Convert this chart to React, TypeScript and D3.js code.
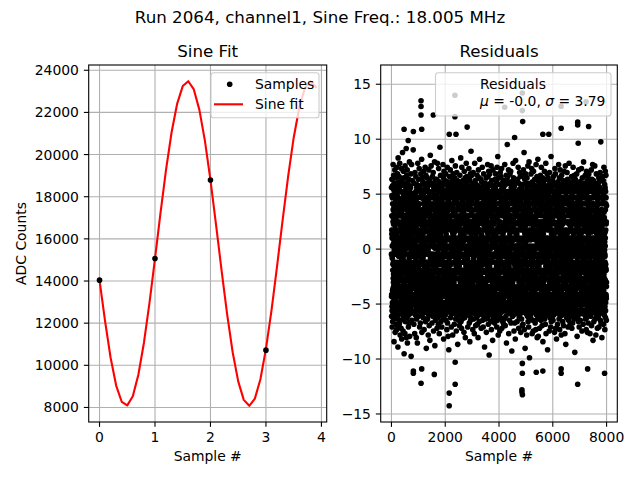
import React from "react";
import * as d3 from "d3";

// ---------- Sine Fit panel ----------
const sampleIdx = [0, 1, 2, 3];
const sampleAdc = [14040, 15070, 18790, 10720];

const fitX = [
    0, 0.1, 0.2, 0.3, 0.4, 0.5, 0.6, 0.7, 0.8, 0.9,
    1, 1.1, 1.2, 1.3, 1.4, 1.5, 1.6, 1.7, 1.8, 1.9,
    2, 2.1, 2.2, 2.3, 2.4, 2.5, 2.6, 2.7, 2.8, 2.9,
    3, 3.1, 3.2, 3.3, 3.4, 3.5, 3.6, 3.7, 3.8, 3.9,
];
const fitAdc = [
    14040, 12100, 10360, 9040, 8270, 8100, 8530, 9550, 11060, 12950,
    15060, 17240, 19300, 21070, 22420, 23250, 23480, 23090, 22120, 20650,
    18790, 16680, 14510, 12430, 10620, 9240, 8360, 8080, 8420, 9340,
    10780, 12610, 14700, 16880, 18960, 20800, 22220, 23150, 23480, 23200,
];
const leftXTicks = [0, 1, 2, 3, 4];
const leftYTicks = [8000, 10000, 12000, 14000, 16000, 18000, 20000, 22000, 24000];

// ---------- Residuals panel ----------
// residuals, one code per sample:
//   a core character (CORE_KEY, lowest level first) for |r| < ~5.7,
//   "+x" / "-x" for the ragged band above / below, x = distance step (TAIL_KEY)
const CORE_KEY = "cvmnayUQbxLPdwMlezVYguN2jt9EkrGKhsO0Wo3DRA45iqHfpIXC8ZB1TJ6SF7";
const TAIL_KEY = "0123456789ABCDEFGHIJKLMNOPQRSTUVWXYZ";
const CORE_RANGE: [number, number] = [-5.6, 5.6];
const TAIL_RANGE: [number, number] = [5.75, 10];
const NUM_SAMPLES = 8000;
const residualRows = [
    "k7Q-3bR3fJ+5mWc-BEh9Ta+0LoZ-7gD2nPi+GXeH-1sMj5Vd+8Fl0Ua-MCp+2YkG8iN-4bSf+CKm4Oe-FhRc+6Wj1Tg-0dL",
    "Hd6NkU-9Zi+1Fc3SmL-DbWg+EPe8JoX-5aDh+9Rj0KfT-QnMc+LQ2Gl-2VbE+3iYd5Ok-AIa+7Cr7Sh-8NfW+HmLe1Zj-HP",
    "eWjL2c-6Ph+0Zk4DnS-CfAbX+Dm9IgU-KdRp+4Ni1KaV-1eGl+POl3cT+2jYh-EMb6Q+BfEt-4Hk0Wn+6CdJ-VaLg8Si-0Ze",
    "Mb5Rk-GGf+FWo1Cj-7Ud+1Zm7Lh-2Sa4Q+SeX-JiNg2Pl+8D-5cKj8V+CbTf-NOn3He+3Yk-3Ia0Rd+YBm-BFg6Wc+5Su-8Lj",
    "Zc9JgS1+IRnF-IkXb4MhW+0eDiP-1jLa7Uq8T+9mGdO-XlYf2KcV+GhEn0Rj-6IbQ3gH+4aZk6CsN-0eXdM5lW+RfPbT",
    "gN8dXlQ-9Bh4TfM+2kCi2ZbR-GwWeJ+AnPa6Gj-2UcOh9DmS+7fKl1AYd-JIgVb-5EkL7cXn+1Ri3HaT-NfQj5Ze+HMm",
    "TiE0cWk+5Ra8NgX-3dLjV3mHb+DPfZe7Qn-BScKh5GlU+0jDa-8YkM2iFbO+9dI9gWn-1JcR6xEh+KTmL-FaPb4XfV+6k",
    "aVg3LcS+3nEj9XkP-4bHf6MmZ+BdRi1WeK-DqTa5GlN+1cUh-0Dj8OfY+EbIk2QgC-7n7FeL+8dWh4Xp-RSj0Ma+2RbV",
    "Fm2KdY+6hBb7Qj-5TfN5cWl+0UeG-HiRa1Xk-2LnD+CgPe8Sj-AMhZ3cVb+46Id-LOfH0kWa+NCmE9gT-1iJl4XnR+FqP",
    "dPk6Uh+1CnW2fL-8bZi8RgE+7mXj0Sa-3NeV4cT+Al2QdH-EkJb7Of+2YiM-0gW5mDa+IKo3Ph-PRc9Fn+5Le-6X1UjIb",
    "Rh4JaX+0eNk0Pg-1ZcE3Lm+5UiD-CdWf8Tb+HQlH-4nKo6Gj+1SaV-9cMd1Yh+DFkI5eOg+3Bb-GXm9Rj-2LpU2fC+TiZd",
    "LeS7gAc+8Uj3ZnK-7bQh0YfD+2kWi5Ma-BRd1TmH+0lXg9Pe-3JcF4nOj+GVb-5I8Gh+6SkE-KaZf2Nq+BLcW6dT-0iRm",
    "cYb2OiW+4fQd8LmG-2kT6Sa+9HnE-6jRg3XeV+1cPh0MzK-DbZd5IlN+EaUf-8Cj4JkF+3hWm-I7SdB+0gLn1QcT-SeXi",
    "NgT9dFk+7HaX0mPc-0WiL4bRj+CZeS-4fUh7QnG+2kMa2VdE-BiJc5OlY+JgKb-1rTe8CmW+5hDf-HQj3AnX+9cSi6LkZ",
    "Il3ZfQ+2aMc7KhT-9jDe1WnR+6bXg-1VpL5dSm+FEkU-5iPa9GcO+0fNh-EYjB4kHd+AZb-3We2TnJ+4gQc0XmF-OaLiR",
    "Uk8CeJ+0mPi2Xb-69RgZ+3aWh4NdL-AfSj0KcY+8nTe6GlO-2qMa3DiH+LbVf-7Qk7EcX+1dWm-CR5Lg+EZhP1iIb-5SjU",
    "bW6cSnK+4hFg1YdO-1iMa8RlZ+1jEe-F3TpUb+BXkQ9fHm-4LcV5gD+6jAn-JWi0Pa+2JeS-0dNk2Gh+HZbM7fRc+7YlT",
    "QiH5kEb+3LgW9mTc-BZa8Nf+0Uj1RhD-2dSl4XeK+DnPb0Mc-8Y6iGa+5VkO-MfJg2Zh-3CeW+9mRu-6Tj7BdL+QiQn3Xc",
    "hDm1XeI+8cPk6SfW-0bZ7Gj+2UaL-DnRi4MgQ+AdYe9KhT-5cOl2VbE+1aNj-GFm6XkH+HdSg-1Zc0Wr+4RfJ5iLb-APeA",
    "Xn3FaO+1jTg8KcW-4hZd1UmS+8bRe4-9PkL+0iNf7DlQ-JcVg0Gh+CYbM-2jIe5CaE+6kHs-79WdT+KmJc2Rn-0UiZ6fPb",
    "jK7eRb+5VmD0hNc-CXfP3gSk+3WaU-1iLo9HdZ+Ee2TjQ-6bGn5CfM+0lYa-BIcE8hOg+9Jk-31SdB+2mXn4FbR-QiUp6T",
    "PcU4iGk+2QdM9nSa-5YhW2fXj+6ZbL-FeE5TgO+1cRm0HkD-0iNb7VfJ+GaKl-43CtI+7eXh-9SgP8dW+BmZn1AcU-WjQb",
    "Gf2NhY+9aDk6JcW-1e0QmT+2gXb-7RiL8jUd+FSnZ-DfK4hPc+4EmV-2bIa9OlM+0gBs-LHdX3eR+CkWj5TcF-5nQi7ZaY",
    "mS5gJd+0EnZ1hWb-8QkT8cLa+5XfU-37RiP+9jOe3VdM-1gYl0KcH+3bNa-BGhD6kIf+EqSe-6WmX2cZj+MAbR9nUg-HTd",
    "Va0XhP+6lEg5RcM-2jNd9KfW+1kZb-ESeI2iUn+AQc9TgD-4hJa6OmY+7bL-0dFk1CeG+DpWj-CXhR4aSg+2ZnM8fB-7cT",
    "ZeP3jDc+4WgI7hUb-9LmR0aSk+0XfN-5nTd4QgE+GiKc8YjM-AbHl1OaV+1fGh-3We6RdB+8kZm-NPcJ5nXi+5SaT9gL+V",
    "eLk8TfW+7dPb2IjZ-0c5ScR+CgXm-GHnA0iNa+2MeU6hKl-6QdY3fVb+9GjO-1cEk9WgD+BmSq-8RaZ7iJd+3LhX1bTf-T",
    "Oc6YgK+1aSe1XjM-3dFk9WlP+HbZh-24RiV+6nUc7LgT-EdHe0JfQ+0mBa-8Dj2ICkN+4bWe-K8XfS+JhZa5GmR-1pTc3U",
    "Yh9DbT+3mWa3IjR-7cZk6QfL+5eSg-0NdU1nVb+EXiE5hKc-CP6GjO+2aMl-4FdH2eWc+ABtS-2kZf8RaQ+7mTi4XgJ-Fb",
    "Kb1QfU+0cXd7HiN-5gSa4ZjL+8mRe-A8TkP+1hWb0VjM-9cId5GlE+CnOa-0YfC2gJe+PXhS-DkRq9Dd+5ZmU3bTi-RWaL",
    "fR4mSc+9OkW9dZh-1La1XgQ+2eTj-HN7PbU+6iIc3VnH-3dKf6YgM+FeEj-70BlD+0aSr-BZcG8kWh+IXbR2nTd-YJiPm5",
    "Sj2WaE+2gPd6McR-4kXn0IfT+9bZh-1UeL9oVj+DGiQ3cYd-GKmN7aHg+3D9Fe-6WbS+1lZj-E4RcX+BkPa1UiM-0h5TdJ",
    "iGd8UkQ+5bXf3LmZ-8eSj0RaW+0cHn-D5TgP+GhVk2MdY-2oIa7EcK+7lNf-J2JbO+4gDh-5XmS+KeRc9ZiW-IpBa4UkT",
    "Uh6NcS+1jKa1WmZ-CdXg8ReF+4kPl-03QbT+8iIe0YnM-6fBc5LhG+EjVa-3EdO+2s1DkW-AgZb7Rc+6XnU4aSi-MPm9Je",
    "cM3kZa+3QfW8hTd-1XbJ0lSe+BRgP-5nUi6Vc4+0LjYa-9EmH9kGd+HNbI-GfOg2CeW+5hZk-2BrS7aXj+9PcR5dLm-STqU",
    "Wd9JgL+6bYh2SmQ-0cXa6TfR+1kZe-E0UnP+AiMj4VdI-4cGh8NkE+3aOb-BFlK1gBd+MWsX-7cRh3Sj+0ZmT7aUe-3QiP",
    "nT1bHf+4XcR5jWe-6ZaQ9kSd+7MlU-2gPi3VhY+1c9LeK-FaDj6GmN+DbIf-00OkW+9hEc-CBgX8tSd+2RaZ2nPj-KUeT4",
    "Dk7PeV+0gSa0XcM-9jRh4ZbW+3nTf-1QdU8lLi+GYe6KaG-5mHc1NjI+6bOd-DEkF5hWg+CXpS-3aRc3ZeB+1mTj9UdQ-Hn",
    "Ra4LiX+8dWk8TcZ-2nQe1SjU+0gPb-7Mh5VfY+4mKc0IdH-AaGl7NjO+BeEb-1DkF3gWc+2XhS-GuRd9ZaT+FiQm2BnP-Oe",
    "hX6eMc+2WgT0kRa-4Zj3QbS+AdPn-07UiL+5fVm9YcK-BhIe2GaN+0lDb-6OjF5kEg+HWdX-1cSh8Rz+3ZbT1aQm-9PiB4f",
    "Tf9RiZ+1cXb4WeS-3gQk1MdU+7aPn-CLjV6hYl+0Kc2IeN-8bGd8HmO+EaEj-2FkD3cWi+4XgS-5cRb0Zp+8TaQ5dMh-UU",
    "bQ2gYd+5LhW7kSa-0XeT0cRm+2ZjU-4f8PnV+9iMb4KcI-IlHe9GdN+1aOk-3FjE1hDg+WW4Xc-7SbR+CaZo6QiT-BfUd3M",
    "Mj5VcQ+3hZb1RfX-6aWe8SkU+0d3TgP-1mLn0YiK+DbIc6HeG-EjNd2OaF+6lEk-0Dh9WcX+2bSg-9RrZ7fTa+IQiU4jMc",
    "Zd0SkW+0bXg5QaR-2fTc9UnP+8eMj-52LhY+1iVc7KdI-Db6HgN+BaGe-4OkF4jEm+4DcW-FhXa1SbR+7iZp8QgT-8eUf3",
    "kU3aPe+9XcW7jSb-1RgZ1dQh+3Tf9M-GiLn5YkV+0bKe0IaH-3cNg4GdO+CmFj-AEhD2lWc+5XsS-0aRb8ZeT+Gq5QiUg-L",
    "Xb7TgR+4cWd2SaZ-7hQi6UkP+1jMe-02LfY+FnVc9KgI-5dHa4NbG+2eOl-HFkE0jDm+9WcX-2hSp3Ra+0ZbT8iQg-CUdM",
    "gW1cRk+1TbS6dZa-4QeU4fPh+6MiL-B9YjV+3nKc3IgH-1bNd7GaO+AeFl-6EmD0jWk+XXcS-8bRt5ZgT+5aQh2UiM-JdP",
    "Pe4XdW+7aSg9RbZ-0cQf1TkU+4hMj-9LiY6nVd+E0KgI-2cHe3NaG+1bOk-DFmE7jDh+BWlX-4cSa2RuZ+8bTg5QiU-6dM8",
];
// isolated residuals beyond +-10: [sample #, residual]
const residualOutliers: [number, number][] = [
    [470, 10.9], [815, 10.7], [1100, 13.5], [1100, 12.97], [1100, 12.2], [1125, 10.9],
    [1556, 12.2], [2150, 10.45], [2360, 14.0], [2360, 12.05], [2400, 10.45], [2815, 11.1],
    [4211, 12.9], [4581, 10.15], [4867, 14.2], [4867, 12.6], [4880, 11.6], [5630, 10.45],
    [5852, 10.45], [6311, 13.0], [6311, 11.0], [6926, 11.55], [6926, 11.3], [7237, 13.4],
    [7333, 11.15],
    [815, -11.1], [815, -11.3], [1100, -12.2], [1125, -10.9], [1593, -11.4], [2148, -14.25],
    [2148, -13.1], [2370, -12.3], [2370, -10.3], [4852, -12.8], [4852, -13.0], [4870, -13.25],
    [4867, -11.3], [4867, -10.4], [5385, -11.2], [5630, -11.1], [6311, -10.9], [6311, -11.3],
    [6926, -12.3], [7296, -10.9], [7926, -11.3],
];
const rightXTicks = [0, 2000, 4000, 6000, 8000];
const rightYTicks = [-15, -10, -5, 0, 5, 10, 15];
const RIGHT_Y_LIMITS: [number, number] = [-15.73, 16.75];

const FONT = "DejaVu Sans, sans-serif";
const TICK_FS = 13.9;
const TITLE_FS = 16.7;
const TICK_LEN = 4.86;
const GRID = "#b0b0b0";

const pad = (ext: [number, number]): [number, number] => {
    const r = ext[1] - ext[0];
    return [ext[0] - 0.05 * r, ext[1] + 0.05 * r];
};

interface Box { x0: number; x1: number; y0: number; y1: number; }

const leftBox: Box = {x0: 88.7, x1: 326.7, y0: 65, y1: 422};
const rightBox: Box = {x0: 380.7, x1: 617.3, y0: 65, y1: 422};

const Axes: React.FC<{
    box: Box;
    x: d3.ScaleLinear<number, number>;
    y: d3.ScaleLinear<number, number>;
    xTicks: number[];
    yTicks: number[];
    yFmt: (v: number) => string;
    title: string;
    xLabel: string;
    yLabel?: string;
    clipId: string;
    children?: React.ReactNode;
    legend?: React.ReactNode;
}> = ({box, x, y, xTicks, yTicks, yFmt, title, xLabel, yLabel, clipId, children, legend}) => {
    const cx = (box.x0 + box.x1) / 2;
    return (
        <g>
            <defs>
                <clipPath id={clipId}>
                    <rect x={box.x0} y={box.y0} width={box.x1 - box.x0} height={box.y1 - box.y0}/>
                </clipPath>
            </defs>
            {/* grid */}
            {xTicks.map(t => (
                <line key={"gx" + t} x1={x(t)} x2={x(t)} y1={box.y0} y2={box.y1} stroke={GRID} strokeWidth={1.1}/>
            ))}
            {yTicks.map(t => (
                <line key={"gy" + t} x1={box.x0} x2={box.x1} y1={y(t)} y2={y(t)} stroke={GRID} strokeWidth={1.1}/>
            ))}
            <g clipPath={`url(#${clipId})`}>{children}</g>
            {/* spines */}
            <rect x={box.x0} y={box.y0} width={box.x1 - box.x0} height={box.y1 - box.y0}
                  fill="none" stroke="black" strokeWidth={1.1}/>
            {/* ticks */}
            {xTicks.map(t => (
                <g key={"tx" + t}>
                    <line x1={x(t)} x2={x(t)} y1={box.y1} y2={box.y1 + TICK_LEN} stroke="black" strokeWidth={1.1}/>
                    <text x={x(t)} y={box.y1 + 20} textAnchor="middle" fontSize={TICK_FS}>{String(t)}</text>
                </g>
            ))}
            {yTicks.map(t => (
                <g key={"ty" + t}>
                    <line x1={box.x0 - TICK_LEN} x2={box.x0} y1={y(t)} y2={y(t)} stroke="black" strokeWidth={1.1}/>
                    <text x={box.x0 - 2 * TICK_LEN} y={y(t) + 5} textAnchor="end" fontSize={TICK_FS}>{yFmt(t)}</text>
                </g>
            ))}
            <text x={cx} y={box.y0 - 8} textAnchor="middle" fontSize={TITLE_FS}>{title}</text>
            <text x={cx} y={461} textAnchor="middle" fontSize={TICK_FS}>{xLabel}</text>
            {yLabel && (
                <text transform={`translate(26, ${(box.y0 + box.y1) / 2}) rotate(-90)`} textAnchor="middle"
                      fontSize={TICK_FS}>{yLabel}</text>
            )}
            {legend}
        </g>
    );
};

const minus = (v: number) => (v < 0 ? "\u2212" + Math.abs(v) : String(v));

export default function App() {
    // left panel scales
    const lx = d3.scaleLinear().domain(pad(d3.extent(fitX) as [number, number])).range([leftBox.x0, leftBox.x1]);
    const ly = d3.scaleLinear()
        .domain(pad(d3.extent([...fitAdc, ...sampleAdc]) as [number, number]))
        .range([leftBox.y1, leftBox.y0]);
    const fitLine = d3.line<number>().x((_, i) => lx(fitX[i])).y(d => ly(d));

    // right panel: decode the residual rows
    const coreLevel = d3.scaleLinear().domain([0, CORE_KEY.length - 1]).range(CORE_RANGE);
    const tailLevel = d3.scaleLinear().domain([0, TAIL_KEY.length - 1]).range(TAIL_RANGE);
    const codes = residualRows.join("");
    const values: number[] = [];
    for (let i = 0; i < codes.length; i++) {
        const c = codes[i];
        if ((c === "+" || c === "-") && i + 1 < codes.length) {
            const k = TAIL_KEY.indexOf(codes[i + 1]);
            if (k >= 0) values.push((c === "+" ? 1 : -1) * tailLevel(k));
            i++;
        } else {
            const k = CORE_KEY.indexOf(c);
            if (k >= 0) values.push(coreLevel(k));
        }
    }
    const residuals = values.map((r, i) => ({s: (i * (NUM_SAMPLES - 1)) / (values.length - 1), r}));
    residualOutliers.forEach(([s, r]) => residuals.push({s, r}));
    const rx = d3.scaleLinear().domain(pad([0, NUM_SAMPLES - 1])).range([rightBox.x0, rightBox.x1]);
    const ry = d3.scaleLinear().domain(RIGHT_Y_LIMITS).range([rightBox.y1, rightBox.y0]);

    const leftLegend = (
        <g>
            <rect x={211} y={72.7} width={108} height={45} rx={2.8} fill="white" fillOpacity={0.8}
                  stroke="#cccccc" strokeWidth={1.1}/>
            <circle cx={229.7} cy={84.3} r={2.8} fill="black"/>
            <text x={255} y={89.3} fontSize={TICK_FS}>Samples</text>
            <line x1={214} x2={243} y1={104.3} y2={104.3} stroke="red" strokeWidth={2.1}/>
            <text x={255} y={109.3} fontSize={TICK_FS}>Sine fit</text>
        </g>
    );
    const rightLegend = (
        <g>
            <rect x={435.5} y={72.7} width={175.5} height={43.3} rx={2.8} fill="white" fillOpacity={0.8}
                  stroke="#cccccc" strokeWidth={1.1}/>
            <text x={480} y={89} fontSize={TICK_FS}>Residuals</text>
            <text x={480} y={105.5} fontSize={TICK_FS}>
                <tspan fontStyle="italic">μ</tspan> = -0.0, <tspan fontStyle="italic">σ</tspan> = 3.79
            </text>
        </g>
    );

    return (
        <svg width={640} height={480} viewBox="0 0 640 480"
             style={{position: "absolute", left: 0, top: 0, background: "white"}}
             fontFamily={FONT}>
            <rect width={640} height={480} fill="white"/>
            <text x={320} y={22.7} textAnchor="middle" fontSize={TITLE_FS}>
                Run 2064, channel1, Sine Freq.: 18.005 MHz
            </text>
            <Axes box={leftBox} x={lx} y={ly} xTicks={leftXTicks} yTicks={leftYTicks}
                  yFmt={v => String(v)} title="Sine Fit" xLabel="Sample #"
                  yLabel="ADC Counts" clipId="clipL" legend={leftLegend}>
                <path d={fitLine(fitAdc) ?? ""} fill="none" stroke="red" strokeWidth={2.1}
                      strokeLinejoin="round" strokeLinecap="square"/>
                {sampleIdx.map((s, i) => (
                    <circle key={s} cx={lx(s)} cy={ly(sampleAdc[i])} r={2.8} fill="black"/>
                ))}
            </Axes>
            <Axes box={rightBox} x={rx} y={ry} xTicks={rightXTicks} yTicks={rightYTicks}
                  yFmt={minus} title="Residuals" xLabel="Sample #"
                  clipId="clipR" legend={rightLegend}>
                {residuals.map((p, i) => (
                    <circle key={i} cx={rx(p.s)} cy={ry(p.r)} r={2.8} fill="black"/>
                ))}
            </Axes>
        </svg>
    );
}
